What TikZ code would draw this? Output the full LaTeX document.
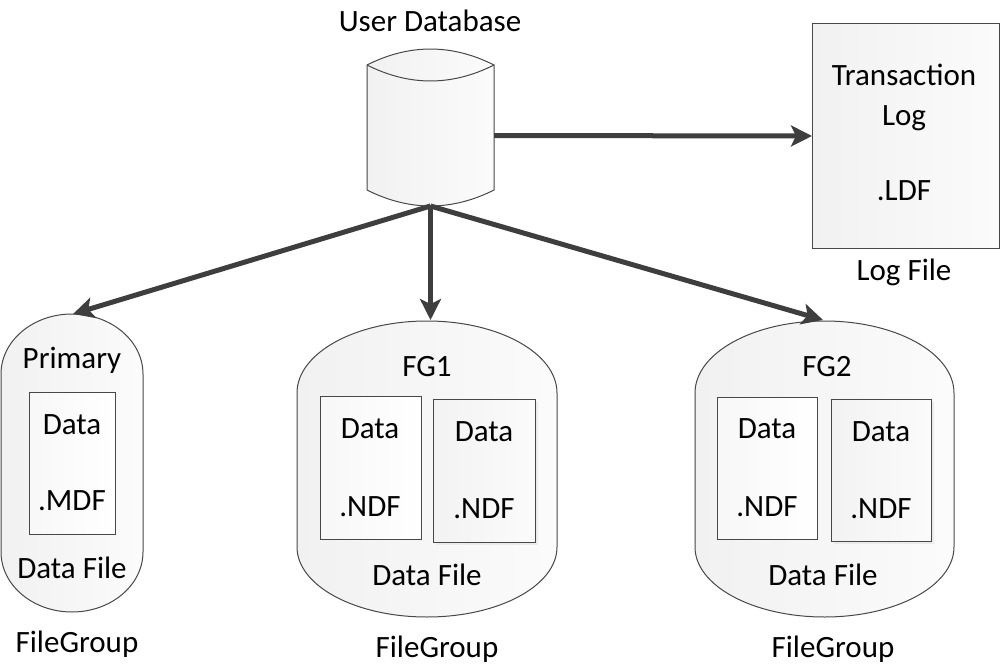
\documentclass[tikz,border=0pt]{standalone}
\usepackage{fontspec}
\setmainfont{Carlito}
\usetikzlibrary{arrows.meta}
\definecolor{arrowgray}{RGB}{62,62,62}
\definecolor{edgegray}{RGB}{72,72,72}
\begin{document}
\begin{tikzpicture}[x=1pt,y=-1pt,
  lbl/.style={font=\fontsize{31}{36}\selectfont, anchor=base, inner sep=0pt},
  shapeline/.style={draw=edgegray, line width=1pt},
  bigfill/.style={left color=gray!11, right color=gray!3},
  boxfill/.style={left color=gray!6, right color=white},
  boxfillb/.style={left color=gray!10, right color=gray!3},
  shadowfill/.style={fill=gray!16},
  conn/.style={draw=arrowgray, line width=5pt, -{Stealth[length=21pt,width=21pt,inset=5pt]}}]
\useasboundingbox (0,0) rectangle (1002,669);

% ---- User Database cylinder ----
\path[shapeline, bigfill] (367,65) -- (367,190) .. controls (409.3,211.3) and (451.7,211.3) .. (494,190)
  -- (494,65) .. controls (451.7,43.7) and (409.3,43.7) .. cycle;
\draw[edgegray, line width=1pt] (367,65) .. controls (409.3,86.3) and (451.7,86.3) .. (494,65);
\node[lbl] (dbl) at (430,32) {User Database};
\coordinate (dbbot) at (430.5,206);
\coordinate (dbright) at (494,135.5);

% ---- Transaction log ----
\node[shapeline, bigfill, minimum width=187pt, minimum height=225pt, anchor=north west, inner sep=0pt] (logbox) at (812,23) {};
\node[lbl] (tl1) at (904,86) {Transaction};
\node[lbl] (tl2) at (904,125) {Log};
\node[lbl] (tl3) at (904,200) {.LDF};
\node[lbl] (tl4) at (904,280) {Log File};

% ---- Primary filegroup ----
\path[shapeline, bigfill] (1,374) .. controls (1,340.9) and (32.8,314) .. (72,314)
  .. controls (111.2,314) and (143,340.9) .. (143,374) -- (143,552)
  .. controls (143,585.1) and (111.2,612) .. (72,612)
  .. controls (32.8,612) and (1,585.1) .. (1,552) -- cycle;
\path[shapeline, boxfill] (29,392) rectangle (115,534);
\node[lbl] (p1) at (72,368) {Primary};
\node[lbl] (p2) at (72,434) {Data};
\node[lbl] (p3) at (72,510) {.MDF};
\node[lbl] (p4) at (72,578) {Data File};
\node[lbl] (p5) at (77,652) {FileGroup};
\coordinate (primtop) at (73,314);

% ---- FG1 ----
\path[shapeline, bigfill] (297,393) .. controls (297,353.2) and (355.2,321) .. (427,321)
  .. controls (498.8,321) and (557,353.2) .. (557,393) -- (557,547)
  .. controls (557,585.7) and (498.8,617) .. (427,617)
  .. controls (355.2,617) and (297,585.7) .. (297,547) -- cycle;
\path[shapeline, boxfill] (320,396) rectangle (421,539);
\path[shadowfill] (436,402) rectangle (538,545);
\path[shapeline, boxfillb] (433,399) rectangle (535,542);
\node[lbl] (f1a) at (427,376) {FG1};
\node[lbl] (f1b) at (370,438) {Data};
\node[lbl] (f1c) at (370,516) {.NDF};
\node[lbl] (f1d) at (484,441) {Data};
\node[lbl] (f1e) at (484,518) {.NDF};
\node[lbl] (f1f) at (427,585) {Data File};
\node[lbl] (f1g) at (437,657) {FileGroup};
\coordinate (fg1top) at (430.5,320);

% ---- FG2 ----
\path[shapeline, bigfill] (695,393) .. controls (695,353.2) and (753,321) .. (824.5,321)
  .. controls (896,321) and (954,353.2) .. (954,393) -- (954,547)
  .. controls (954,585.7) and (896,617) .. (824.5,617)
  .. controls (753,617) and (695,585.7) .. (695,547) -- cycle;
\path[shapeline, boxfill] (717,397) rectangle (817,539);
\path[shadowfill] (834,402) rectangle (934,544);
\path[shapeline, boxfillb] (831,399) rectangle (931,541);
\node[lbl] (f2a) at (827,376) {FG2};
\node[lbl] (f2b) at (767,438) {Data};
\node[lbl] (f2c) at (767,516) {.NDF};
\node[lbl] (f2d) at (881,441) {Data};
\node[lbl] (f2e) at (881,518) {.NDF};
\node[lbl] (f2f) at (823,585) {Data File};
\node[lbl] (f2g) at (833,657) {FileGroup};
\coordinate (fg2top) at (823,320);

% ---- connectors ----
\draw[conn] (dbright) -- (logbox.west);
\draw[conn] (dbbot) -- (primtop);
\draw[conn] (dbbot) -- (fg1top);
\draw[conn] (dbbot) -- (fg2top);
\end{tikzpicture}
\end{document}
